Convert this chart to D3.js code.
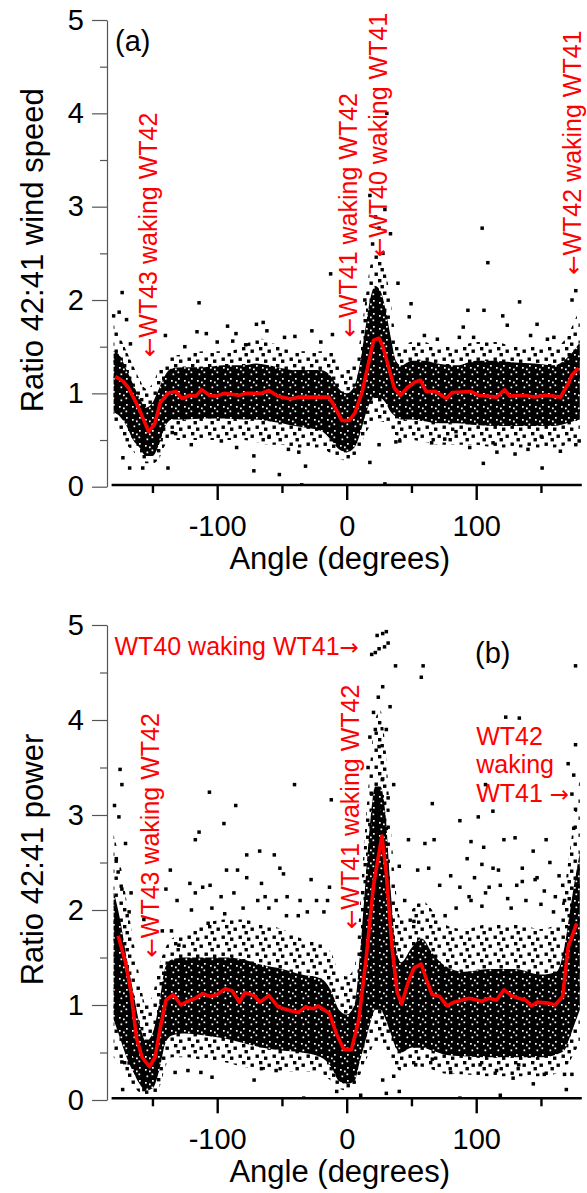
<!DOCTYPE html>
<html><head><meta charset="utf-8">
<script src="https://cdn.jsdelivr.net/npm/d3@7"></script>
<style>
body{margin:0;background:#fff;}
svg{display:block;font-family:"Liberation Sans",Arial,sans-serif;}
</style></head><body>
<svg id="chart" width="587" height="1193"></svg>
<script>
// ---------------- DATA ----------------
const angleTicks = [-100, 0, 100];
const angleMinorTicks = [-150, -50, 50, 150];
const ratioTicks = [0, 1, 2, 3, 4, 5];
const ratioMinorTicks = [0.5, 1.5, 2.5, 3.5, 4.5];

// (a) wind speed: binned mean (red line)
const windMeanAngle = [-178.6,-172.8,-168.5,-161,-153,-148.3,-144,-138,-132,-127,-121,-116.5,-112,-106,-100.6,-94.8,-83,-77.5,-66,-60,-53,-43,-37,-14,-11,-3.8,2,6.4,12,16.5,20.8,25,28,32.4,36.7,41.6,46.8,52.6,57,61.3,68.5,77,81.5,96,101.7,116,122,126,136.4,145,153.8,165,171,174,179];
const windMeanValue = [1.18,1.13,1.06,0.855,0.59,0.67,0.9,1.0,1.02,0.945,0.98,0.97,1.04,0.98,0.97,1.0,0.98,1.0,1.0,1.03,0.97,0.94,0.96,0.96,0.9,0.71,0.71,0.79,1.02,1.30,1.57,1.59,1.5,1.28,1.06,0.98,1.06,1.12,1.14,1.02,1.02,0.945,1.01,1.02,0.98,0.96,1.04,0.97,0.98,0.96,0.98,0.96,1.10,1.2,1.27];

// (a) wind speed: extent of the dense point cloud (core) and its sparser fringe
const windBandAngle = [-180,-175,-170,-165,-160,-155,-150,-145,-140,-135,-125,-110,-95,-80,-70,-60,-50,-40,-30,-20,-12,-6,0,6,10,14,18,22,26,30,34,38,42,50,60,70,85,100,115,130,145,160,170,175,180];
const windFringeLo = [0.65,0.55,0.45,0.38,0.3,0.25,0.25,0.3,0.45,0.5,0.5,0.5,0.5,0.5,0.48,0.45,0.45,0.42,0.42,0.42,0.35,0.3,0.28,0.3,0.4,0.55,0.65,0.7,0.7,0.68,0.6,0.55,0.5,0.5,0.48,0.45,0.45,0.45,0.42,0.42,0.42,0.42,0.45,0.48,0.5];
const windCoreLo   = [0.8,0.75,0.65,0.5,0.42,0.33,0.33,0.45,0.65,0.72,0.72,0.73,0.73,0.72,0.72,0.7,0.68,0.65,0.63,0.6,0.5,0.4,0.37,0.42,0.55,0.75,0.9,0.95,0.95,0.9,0.8,0.75,0.72,0.72,0.7,0.68,0.68,0.66,0.65,0.65,0.65,0.65,0.68,0.7,0.72];
const windCoreHi   = [1.45,1.4,1.25,1.1,0.95,0.85,0.9,1.05,1.2,1.27,1.28,1.28,1.3,1.3,1.32,1.3,1.27,1.25,1.25,1.25,1.18,1.05,1.0,1.08,1.3,1.65,2.0,2.15,2.1,1.9,1.6,1.35,1.3,1.35,1.35,1.32,1.3,1.35,1.35,1.33,1.32,1.3,1.38,1.45,1.55];
const windFringeHi = [1.75,1.6,1.45,1.3,1.15,1.05,1.1,1.25,1.32,1.4,1.42,1.45,1.45,1.5,1.6,1.55,1.5,1.45,1.45,1.45,1.45,1.35,1.25,1.35,1.55,1.95,2.35,2.5,2.45,2.3,2.0,1.6,1.5,1.55,1.55,1.5,1.5,1.55,1.55,1.5,1.5,1.5,1.6,1.75,1.9];

// (a) wind speed: isolated points outside the cloud [angle, ratio]
const windOutliers = [[-173.4,2.08],[-180,1.83],[-175.7,1.87],[-170,1.79],[-167,1.53],[-140,1.62],[-114,1.97],[-167.6,0.2],[-157.5,0.2],[-172.8,0.31],[-138,0.2],[-134.7,0.58],[-115.6,1.66],[-108.4,1.64],[-92,1.72],[-85.5,1.64],[-69.7,1.74],[-64.5,1.76],[-61.6,1.67],[-71.7,0.33],[-71.7,0.17],[-52,0.13],[-34.7,0.02],[-40,1.61],[-26.9,1.67],[-12.4,2.28],[-11,1.63],[17.9,0.26],[25,0.45],[17.9,3.12],[29.5,2.97],[33.8,2.71],[22.3,2.89],[25,2.77],[39.6,2.18],[49.7,1.96],[48.3,1.82],[29.5,0.03],[38,0.48],[104.6,2.77],[109,2.4],[93.6,1.89],[106,1.89],[133.5,1.98],[120.5,1.83],[124,1.73],[147,1.74],[90,1.71],[87,1.6],[105.5,0.25],[150.9,0.2],[130,0.35],[176.9,2.1],[174,2.0],[150.9,0.53],[65.6,0.47],[75.7,0.51],[41,0.49],[-96.8,0.49],[-60,0.53],[-37,0.37],[-31.8,0.22],[84.4,0.59],[113,0.47],[116,0.37],[176.9,0.45],[179.5,0.49],[31,4.0],[20,2.6],[28,2.5],[14,2.0],[-48,1.6],[-88,1.56],[60,1.62],[142,1.62],[160,1.6],[-125,1.5],[-100,1.55],[-78,1.52],[-20,1.55],[70,1.58],[98,1.6],[155,1.58],[-120,0.45],[-85,0.42],[-45,0.4],[95,0.42],[140,0.4],[165,0.38]];

// (b) power: binned mean (red line)
const powerMeanAngle = [-176.5,-170.8,-166.5,-162.3,-158,-152.3,-148,-143.8,-139.6,-134,-128,-122.6,-117,-111,-105.5,-100,-94,-88.5,-82.8,-78.6,-71.5,-67,-60,-53,-46,-37.4,-31.8,-26,-21.8,-13.3,-7.7,-2,3.7,9.4,15,20.7,27.2,30.6,35,39,42.5,47.7,52,57.6,62,66,71.8,77.4,83,88.8,94.5,104.4,110,115.7,121.4,127,132.8,138.4,142.7,147,155.5,161,166.8,171,177.6];
const powerMeanValue = [1.73,1.45,1.13,0.65,0.45,0.35,0.45,0.77,1.05,1.11,1.0,1.04,1.07,1.12,1.09,1.11,1.17,1.15,1.03,1.13,1.10,1.03,1.10,0.98,0.95,0.92,0.98,0.96,0.99,0.91,0.69,0.53,0.53,0.85,1.49,2.26,2.78,2.38,1.61,1.13,1.01,1.25,1.39,1.43,1.25,1.11,1.09,0.99,1.03,1.05,1.07,1.04,1.07,1.05,1.16,1.10,1.07,1.05,0.99,1.03,1.02,1.0,1.09,1.61,1.86];

// (b) power: extent of the dense point cloud (core) and its sparser fringe
const powerBandAngle = [-180,-175,-170,-165,-160,-155,-150,-145,-140,-135,-125,-110,-95,-80,-65,-50,-35,-20,-12,-6,0,6,10,14,18,22,26,30,34,38,42,50,58,66,75,90,110,130,150,162,168,172,176,180];
const powerFringeLo = [0.45,0.35,0.25,0.15,0.08,0.05,0.05,0.12,0.35,0.45,0.45,0.42,0.4,0.35,0.32,0.3,0.3,0.28,0.2,0.12,0.1,0.12,0.25,0.4,0.5,0.6,0.6,0.55,0.45,0.35,0.3,0.35,0.35,0.32,0.28,0.27,0.25,0.25,0.25,0.28,0.32,0.4,0.5,0.6];
const powerCoreLo   = [0.85,0.65,0.45,0.3,0.17,0.1,0.12,0.3,0.6,0.68,0.7,0.68,0.65,0.6,0.55,0.52,0.5,0.45,0.35,0.2,0.17,0.2,0.4,0.6,0.8,0.95,0.95,0.85,0.7,0.55,0.5,0.55,0.55,0.52,0.48,0.46,0.45,0.45,0.45,0.48,0.52,0.65,0.8,0.95];
const powerCoreHi   = [2.2,1.9,1.5,1.15,0.8,0.62,0.7,1.0,1.4,1.48,1.5,1.5,1.5,1.48,1.42,1.38,1.32,1.28,1.15,0.95,0.9,1.0,1.5,2.2,2.9,3.3,3.3,3.0,2.2,1.6,1.45,1.6,1.7,1.55,1.42,1.35,1.38,1.38,1.32,1.35,1.6,1.95,2.3,2.6];
const powerFringeHi = [2.8,2.5,2.1,1.7,1.3,1.0,1.1,1.4,1.6,1.7,1.75,1.85,1.9,1.9,1.85,1.8,1.7,1.65,1.55,1.35,1.3,1.4,2.0,2.8,3.5,4.0,4.1,3.7,2.9,2.2,1.9,2.0,2.1,2.0,1.85,1.8,1.85,1.85,1.8,1.85,2.2,2.6,3.0,3.4];

// (b) power: isolated points outside the cloud [angle, ratio]
const powerOutliers = [[22.1,4.71],[25,4.75],[27.8,4.91],[30.6,4.93],[32,4.81],[29.2,4.77],[23.5,4.89],[19.3,4.69],[37.7,4.57],[59,4.57],[57.6,4.45],[27.8,4.35],[24.4,4.24],[33.5,4.14],[20.7,4.08],[22.1,3.9],[17.9,3.82],[25,3.72],[30.6,3.9],[16.5,3.5],[27.8,3.38],[36.3,3.32],[19.3,3.22],[32,3.18],[25,3.06],[17.9,2.9],[30.6,2.86],[122.8,4.03],[133.3,4.02],[176.7,4.57],[176.7,3.74],[171,3.54],[175.3,3.42],[173.9,3.22],[176.7,3.06],[175.3,2.86],[107.2,3.32],[66.1,3.12],[112.9,3.04],[101.6,2.98],[87.4,2.94],[96,2.72],[105.8,2.66],[121.4,2.74],[130,2.76],[154,2.74],[144,2.62],[93,2.54],[104.4,2.48],[113,2.44],[135.6,2.44],[156.9,2.5],[145.5,2.32],[135.6,2.3],[118.6,2.26],[107.2,2.18],[96,2.1],[84.5,2.02],[127,2.02],[150,2.06],[166.8,2.26],[159.7,1.98],[67.5,2.74],[60.4,2.7],[47.7,2.74],[54.8,2.42],[63.3,2.44],[40.6,2.46],[44.8,2.1],[71.8,2.26],[76,1.94],[51.9,1.88],[-175,3.48],[-173.6,3.32],[-179.3,3.1],[-175.9,2.98],[-170.8,2.7],[-177.9,2.54],[-176.5,2.4],[-173.6,2.22],[-166.5,2.18],[-168,1.98],[-156.6,1.9],[-136.2,2.42],[-116.9,2.74],[-114,2.82],[-106,3.24],[-94.8,2.91],[-85.7,3.1],[-77.2,2.58],[-67.2,2.62],[-55.9,2.58],[-51.6,2.44],[-48.8,2.38],[-40.3,3.32],[-84.3,2.42],[-92.8,2.42],[-77.2,2.34],[-65.8,2.28],[-54.5,2.1],[-63,2.14],[-46.5,1.94],[-27.5,2.32],[-36,2.1],[-30.4,1.98],[-13.3,2.24],[-14.8,2.1],[-11.9,3.16],[-121.1,2.28],[-111.2,2.24],[-119.9,2.0],[-104.1,2.02],[-107,1.86],[-94.2,1.96],[-135.3,1.78],[-142.4,1.78],[-129.6,1.63],[-173,0.11],[-156.6,0.11],[-173.6,0.4],[-168,0.39],[-163.7,0.47],[-132.5,0.29],[-122.6,0.31],[-112.6,0.29],[-104,0.24],[-71.5,0.21],[-65.8,0.33],[-54.5,0.31],[-33.2,0.02],[-7.7,0.09],[10.8,0.05],[30.6,0.07],[40.6,0.09],[27.8,0.21],[36.3,0.25],[53.3,0.37],[66.1,0.43],[80.3,0.29],[87.4,0.02],[103,0.37],[118.6,0.05],[128.5,0.23],[144.1,0.17],[152.6,0.27],[169.6,0.11],[168.2,0.27],[173.9,0.27],[115.7,0.31],[132.8,0.37],[80.3,2.36],[87.4,2.24],[94.5,2.14],[98.7,2.34],[104.4,2.04],[110,2.24],[117.2,2.42],[124.3,2.12],[131.3,2.26],[138.4,2.1],[147,2.34],[152.6,2.2],[161.1,2.14],[164,2.36],[168.2,2.1],[-131,2.1],[-116.9,2.18],[-105.5,2.26],[-97,2.14],[-87.1,2.18],[-80,2.02],[-68.7,2.1],[-60.1,2.02],[-46,2.14],[-37.4,1.94],[-23.3,2.1],[-17.6,1.98],[-139.6,2.22]];

// ---------------- TEXT ----------------
const xTitle = "Angle (degrees)";
const windTitle = "Ratio 42:41 wind speed";
const powerTitle = "Ratio 42:41 power";
// rotated annotations: [arrow, text, angle of baseline, ratio at text start]
const windNotes = [["\u2190","WT43 waking WT42",-146.5,1.39],["\u2190","WT41 waking WT42",8.0,1.6],["\u2190","WT40 waking WT41",31.1,2.46],["\u2190","WT42 waking WT41",180.8,2.27]];
const powerNotes = [["\u2190","WT43 waking WT42",-145,1.5],["\u2190","WT41 waking WT42",9.5,1.8]];
// horizontal annotations: [lines, trailing arrow, angle of start, ratio of first baseline]
const powerFlatNotes = [[["WT40 waking WT41"],"\u2192",-179.3,4.68],[["WT42","waking","WT41 "],"\u2192",100,3.74]];

// ---------------- DRAWING ----------------
const svg = d3.select("#chart");
const FONT = "'Liberation Sans', Arial, sans-serif";
const ARROWFONT = "'DejaVu Sans', sans-serif";
const x = d3.scaleLinear().domain([-180, 180]).range([113.6, 579.8]);
const fmt = d => String(d);

const defs = svg.append("defs");
const dense = defs.append("pattern").attr("id","dense").attr("patternUnits","userSpaceOnUse").attr("width",13).attr("height",13);
dense.append("rect").attr("width",13).attr("height",13).attr("fill","#000");
[[2,3],[8.5,7.5],[9,1],[3.5,9.5],[6,4.5]].forEach(([px,py])=>dense.append("rect").attr("x",px).attr("y",py).attr("width",1.7).attr("height",1.7).attr("fill","#fff"));
const sparse = defs.append("pattern").attr("id","sparse").attr("patternUnits","userSpaceOnUse").attr("width",17).attr("height",17);
[[0.5,0.5],[9,2.5],[4,7],[12.5,9.5],[6.5,13]].forEach(([px,py])=>sparse.append("rect").attr("x",px).attr("y",py).attr("width",3.4).attr("height",3.4).attr("fill","#000"));

function drawPanel(o) {
  const y = d3.scaleLinear().domain([0, 5]).range([o.bottom, o.top]);
  const g = svg.append("g");
  const clipId = "clip" + o.id;
  defs.append("clipPath").attr("id", clipId).append("rect")
    .attr("x", x(-180) - 2).attr("y", y(5)).attr("width", x(180) - x(-180) + 4).attr("height", y(0) - y(5) - 1);
  const plot = g.append("g").attr("clip-path", `url(#${clipId})`);

  const band = (lo, hi) => d3.area().x((d,i)=>x(o.bandAngle[i])).y0((d,i)=>y(lo[i])).y1((d,i)=>y(hi[i])).curve(d3.curveMonotoneX);
  plot.append("path").attr("d", band(o.fringeLo, o.fringeHi)(o.bandAngle)).attr("fill","url(#sparse)");
  plot.append("path").attr("d", band(o.coreLo, o.coreHi)(o.bandAngle)).attr("fill","url(#dense)");

  plot.selectAll("rect.pt").data(o.outliers).join("rect").attr("class","pt")
    .attr("x", d => x(d[0]) - 1.75).attr("y", d => y(d[1]) - 1.75)
    .attr("width", 3.5).attr("height", 3.5).attr("fill", "#000");

  const line = d3.line().x((d,i)=>x(o.meanAngle[i])).y(d=>y(d));
  plot.append("path").attr("d", line(o.meanValue)).attr("fill","none").attr("stroke","#ff0000")
    .attr("stroke-width",3.6).attr("stroke-linejoin","round");

  // y axis
  const yAxisX = x(-180) - 6.6;
  const ya = g.append("g").attr("transform", `translate(${yAxisX},0)`)
    .call(d3.axisLeft(y).tickValues(ratioTicks).tickSize(15).tickSizeOuter(0).tickPadding(8).tickFormat(fmt));
  ya.select(".domain").attr("stroke","#555").attr("stroke-width",1.2);
  ya.selectAll(".tick line").attr("stroke","#555").attr("stroke-width",1.2);
  ya.selectAll("text").attr("font-size",29).attr("font-family",FONT).attr("fill","#000");
  const ym = g.append("g").attr("transform", `translate(${yAxisX},0)`)
    .call(d3.axisLeft(y).tickValues(ratioMinorTicks).tickSize(7).tickSizeOuter(0).tickFormat(""));
  ym.select(".domain").remove();
  ym.selectAll(".tick line").attr("stroke","#555").attr("stroke-width",1.2);

  // x axis
  const xAxisY = y(0) - 1.7;
  const xa = g.append("g").attr("transform", `translate(0,${xAxisY})`)
    .call(d3.axisBottom(x).tickValues(angleTicks).tickSize(15).tickSizeOuter(0).tickPadding(15).tickFormat(fmt));
  xa.select(".domain").remove();
  xa.selectAll(".tick line").attr("stroke","#000").attr("stroke-width",2.4);
  xa.selectAll("text").attr("font-size",29).attr("font-family",FONT).attr("fill","#000");
  const xm = g.append("g").attr("transform", `translate(0,${xAxisY})`)
    .call(d3.axisBottom(x).tickValues(angleMinorTicks).tickSize(8).tickSizeOuter(0).tickFormat(""));
  xm.select(".domain").remove();
  xm.selectAll(".tick line").attr("stroke","#000").attr("stroke-width",2.4);
  g.append("line").attr("x1", x(-180) - 2).attr("x2", x(180) + 2).attr("y1", xAxisY).attr("y2", xAxisY)
    .attr("stroke","#000").attr("stroke-width",2.6);

  // titles
  g.append("text").attr("x", (x(-180)+x(180))/2 - 7).attr("y", xAxisY + 84).attr("text-anchor","middle")
    .attr("font-size",31).attr("font-family",FONT).text(xTitle);
  g.append("text").attr("transform", `translate(43,${(y(0)+y(5))/2 - 3}) rotate(-90)`).attr("text-anchor","middle")
    .attr("font-size",31).attr("font-family",FONT).text(o.title);
  g.append("text").attr("x", o.labelX).attr("y", y(o.labelV)).attr("font-size",29).attr("font-family",FONT).text(o.label);

  // annotations
  o.notes.forEach(([arrow, t, a, v]) => {
    const tx = g.append("text").attr("transform", `translate(${x(a)},${y(v)}) rotate(-90)`)
      .attr("font-size",25).attr("font-family",FONT).attr("fill","#ff0000");
    tx.append("tspan").attr("font-family",ARROWFONT).attr("font-size",23).text(arrow);
    tx.append("tspan").text(t);
  });
  (o.flatNotes || []).forEach(([lines, arrow, a, v]) => {
    const t = g.append("text").attr("x", x(a)).attr("y", y(v)).attr("font-size",25).attr("font-family",FONT).attr("fill","#ff0000");
    lines.forEach((l, i) => t.append("tspan").attr("x", x(a)).attr("dy", i === 0 ? 0 : 28.5).text(l));
    t.append("tspan").attr("font-family",ARROWFONT).attr("font-size",23).text(arrow);
  });
}

drawPanel({id:"a", top:20, bottom:486.7, title:windTitle, label:"(a)", labelX:115, labelV:4.67,
  meanAngle:windMeanAngle, meanValue:windMeanValue, bandAngle:windBandAngle,
  fringeLo:windFringeLo, coreLo:windCoreLo, coreHi:windCoreHi, fringeHi:windFringeHi,
  outliers:windOutliers, notes:windNotes});
drawPanel({id:"b", top:625, bottom:1100, title:powerTitle, label:"(b)", labelX:475, labelV:4.6,
  meanAngle:powerMeanAngle, meanValue:powerMeanValue, bandAngle:powerBandAngle,
  fringeLo:powerFringeLo, coreLo:powerCoreLo, coreHi:powerCoreHi, fringeHi:powerFringeHi,
  outliers:powerOutliers, notes:powerNotes, flatNotes:powerFlatNotes});
</script></body></html>
